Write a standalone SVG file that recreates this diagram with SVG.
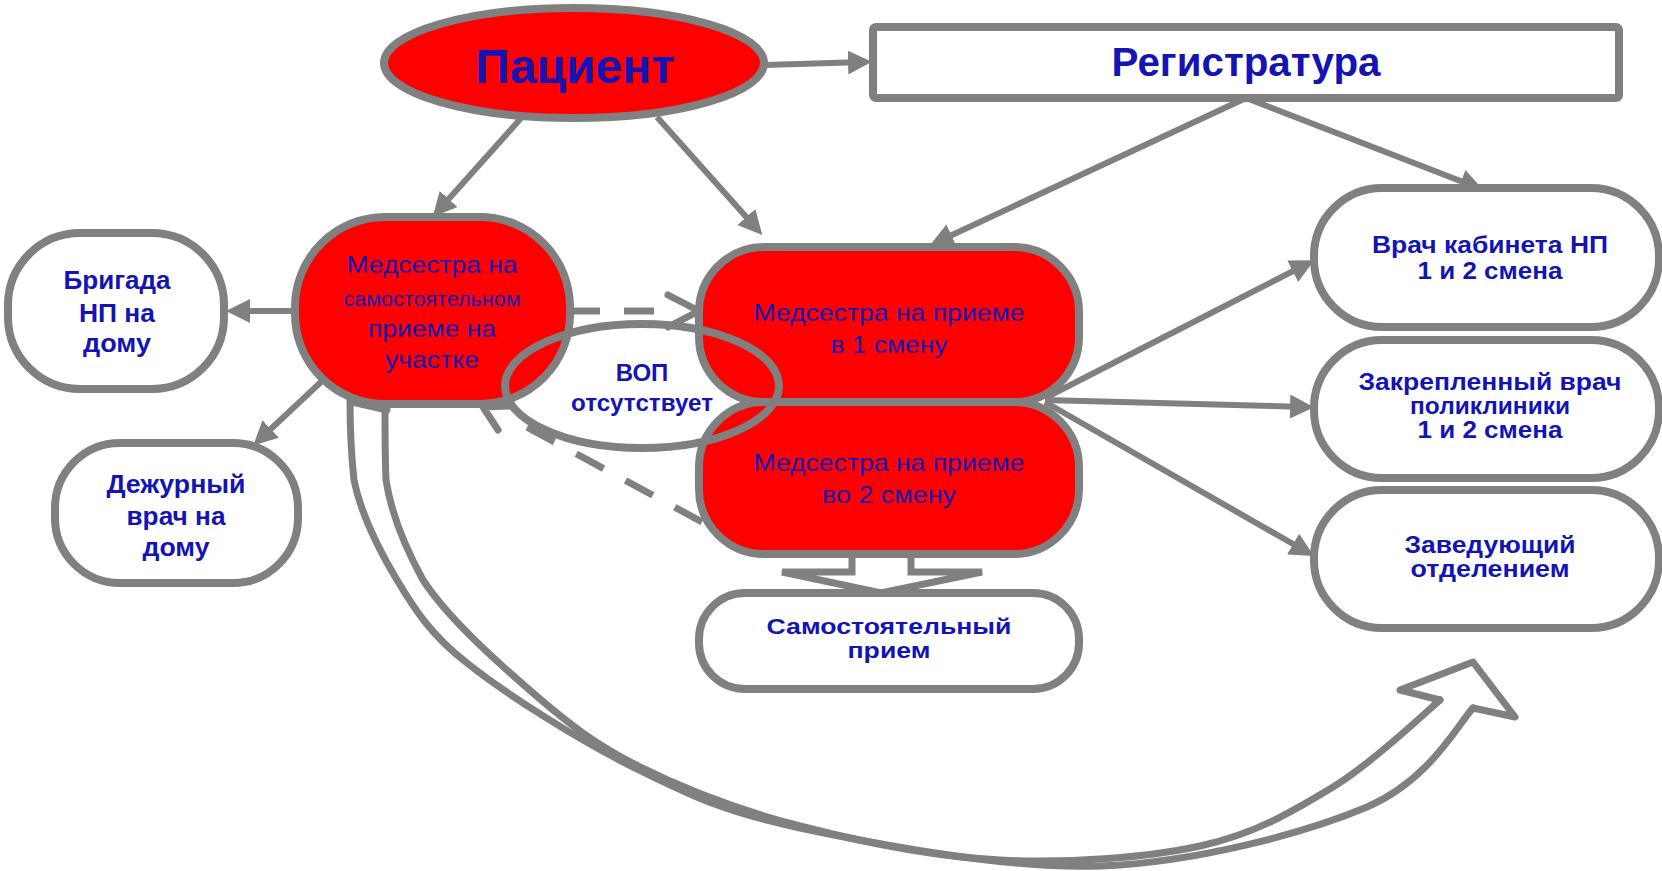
<svg xmlns="http://www.w3.org/2000/svg" width="1662" height="871" viewBox="0 0 1662 871">
<defs>
<style>
.nb{stroke:#808080;stroke-width:8}
.red{fill:#FF0000}
.wh{fill:#FFFFFF}
.t{font-family:"Liberation Sans",Arial,sans-serif;fill:#1414B4;text-anchor:middle}
.b{font-weight:bold}
.c{stroke:#808080;stroke-width:6;fill:none}
.d{stroke:#808080;stroke-width:7;fill:none;stroke-dasharray:30 24}
.ch{stroke:#808080;stroke-width:7;fill:none;stroke-linecap:round;stroke-linejoin:round}
.cv{stroke:#808080;stroke-width:7;fill:none;stroke-linejoin:round;stroke-linecap:round}
</style>
<marker id="ah" viewBox="0 0 24 24" refX="16" refY="12" markerWidth="24" markerHeight="24" markerUnits="userSpaceOnUse" orient="auto"><path d="M0,0 L24,12 L0,24 z" fill="#808080"/></marker>
</defs>
<rect width="1662" height="871" fill="#FFFFFF"/>
<g id="connectors">
<path class="cv" d="M350,400 C350,427 351,453 354,480 C360.6,513 377.2,547 397,580 C413.8,608 430.6,635 467,663 C506.3,694.2 577.5,739.5 633,767 C688.5,794.5 722.2,811.5 800,828 C877.8,844.5 1005.5,869.5 1100,866 C1194.5,862.5 1304.8,833.3 1367,807 C1429.2,780.7 1458,724 1473,708"/>
<path class="cv" d="M385,408 C385,432 385,456 386,480 C391,513 404.9,547 423,580 C447.7,618 496.8,661.8 533,693 C569.2,724.2 595.5,744.8 640,767 C684.5,789.2 740,810.5 800,826 C860,841.5 933.3,856.7 1000,860 C1066.7,863.3 1144.5,858.2 1200,846 C1255.5,833.8 1293,811.3 1333,787 C1373,762.7 1425,713 1440,700"/>
<polyline class="cv" points="1440,700 1400,690 1473,662 1515,717 1473,708"/>
<line class="cv" x1="352" y1="402" x2="387" y2="410"/>
<line class="c" x1="765" y1="65" x2="864" y2="62" marker-end="url(#ah)"/>
<line class="c" x1="1246" y1="98" x2="937" y2="242" marker-end="url(#ah)"/>
<line class="c" x1="1246" y1="98" x2="1476" y2="187" marker-end="url(#ah)"/>
<line class="c" x1="522" y1="117" x2="438" y2="211" marker-end="url(#ah)"/>
<line class="c" x1="657" y1="117" x2="757" y2="229" marker-end="url(#ah)"/>
<line class="c" x1="295" y1="311" x2="234" y2="311" marker-end="url(#ah)"/>
<line class="c" x1="321" y1="382" x2="259" y2="440" marker-end="url(#ah)"/>
<line class="c" x1="1045" y1="398" x2="1307" y2="264" marker-end="url(#ah)"/>
<line class="c" x1="1045" y1="400" x2="1306" y2="407" marker-end="url(#ah)"/>
<line class="c" x1="1045" y1="402" x2="1307" y2="552" marker-end="url(#ah)"/>
<line class="d" x1="570" y1="311" x2="660" y2="311"/>
<polyline class="ch" points="668,295 699,311 668,327"/>
<line class="d" x1="702" y1="522" x2="527" y2="427" style="stroke-dasharray:31 25"/>
<polyline class="ch" points="498,430 483,407 510,406"/>
<polygon points="852,554 852,572 782,572 881,593 982,572 911,572 911,554" fill="#FFFFFF" stroke="#808080" stroke-width="7" stroke-linejoin="miter"/>
</g>
<g id="patient">
<ellipse cx="574" cy="63" rx="190" ry="55" class="nb red"/>
<text x="575" y="83" class="t b" font-size="48">Пациент</text>
</g>
<g id="registratura">
<rect x="873" y="27" width="746" height="71" rx="3" class="nb wh"/>
<text x="1246" y="76" class="t b" font-size="40" textLength="269" lengthAdjust="spacingAndGlyphs">Регистратура</text>
</g>
<g id="nurse-own">
<rect x="295" y="217" width="275" height="187" rx="90" class="nb red"/>
<text x="432" y="273" class="t" font-size="24" textLength="171" lengthAdjust="spacingAndGlyphs">Медсестра на</text>
<text x="432" y="306" class="t" font-size="20" textLength="177" lengthAdjust="spacingAndGlyphs">самостоятельном</text>
<text x="432" y="337" class="t" font-size="24" textLength="128" lengthAdjust="spacingAndGlyphs">приеме на</text>
<text x="432" y="368" class="t" font-size="24" textLength="94" lengthAdjust="spacingAndGlyphs">участке</text>
</g>
<g id="brigade">
<rect x="8" y="233" width="216" height="156" rx="72" class="nb wh"/>
<text x="117" y="289" class="t b" font-size="25" textLength="107" lengthAdjust="spacingAndGlyphs">Бригада</text>
<text x="117" y="322" class="t b" font-size="25" textLength="76" lengthAdjust="spacingAndGlyphs">НП на</text>
<text x="117" y="352" class="t b" font-size="25" textLength="68" lengthAdjust="spacingAndGlyphs">дому</text>
</g>
<g id="duty">
<rect x="55" y="443" width="243" height="140" rx="65" class="nb wh"/>
<text x="176" y="493" class="t b" font-size="25" textLength="139" lengthAdjust="spacingAndGlyphs">Дежурный</text>
<text x="176" y="525" class="t b" font-size="25" textLength="99" lengthAdjust="spacingAndGlyphs">врач на</text>
<text x="176" y="556" class="t b" font-size="25" textLength="67" lengthAdjust="spacingAndGlyphs">дому</text>
</g>
<g id="nurse-1">
<rect x="699" y="247" width="380" height="155" rx="65" class="nb red"/>
<text x="889" y="321" class="t" font-size="24" textLength="271" lengthAdjust="spacingAndGlyphs">Медсестра на приеме</text>
<text x="889" y="353" class="t" font-size="24" textLength="117" lengthAdjust="spacingAndGlyphs">в 1 смену</text>
</g>
<g id="nurse-2">
<rect x="699" y="402" width="380" height="152" rx="65" class="nb red"/>
<text x="889" y="471" class="t" font-size="24" textLength="271" lengthAdjust="spacingAndGlyphs">Медсестра на приеме</text>
<text x="889" y="503" class="t" font-size="24" textLength="134" lengthAdjust="spacingAndGlyphs">во 2 смену</text>
</g>
<g id="self">
<rect x="699" y="593" width="380" height="96" rx="46" class="nb wh"/>
<text x="889" y="634" class="t b" font-size="22" textLength="245" lengthAdjust="spacingAndGlyphs">Самостоятельный</text>
<text x="889" y="658" class="t b" font-size="22" textLength="83" lengthAdjust="spacingAndGlyphs">прием</text>
</g>
<g id="vop">
<ellipse cx="642" cy="386" rx="137" ry="62" fill="none" class="nb"/>
<text x="642" y="381" class="t b" font-size="24">ВОП</text>
<text x="642" y="411" class="t b" font-size="23" textLength="142" lengthAdjust="spacingAndGlyphs">отсутствует</text>
</g>
<g id="doc-np">
<rect x="1314" y="188" width="345" height="139" rx="68" class="nb wh"/>
<text x="1490" y="253" class="t b" font-size="24" textLength="236" lengthAdjust="spacingAndGlyphs">Врач кабинета НП</text>
<text x="1490" y="279" class="t b" font-size="24" textLength="145" lengthAdjust="spacingAndGlyphs">1 и 2 смена</text>
</g>
<g id="doc-fixed">
<rect x="1314" y="340" width="345" height="138" rx="68" class="nb wh"/>
<text x="1490" y="390" class="t b" font-size="23" textLength="263" lengthAdjust="spacingAndGlyphs">Закрепленный врач</text>
<text x="1490" y="414" class="t b" font-size="23" textLength="160" lengthAdjust="spacingAndGlyphs">поликлиники</text>
<text x="1490" y="438" class="t b" font-size="23" textLength="145" lengthAdjust="spacingAndGlyphs">1 и 2 смена</text>
</g>
<g id="head">
<rect x="1314" y="490" width="345" height="138" rx="68" class="nb wh"/>
<text x="1490" y="553" class="t b" font-size="24" textLength="171" lengthAdjust="spacingAndGlyphs">Заведующий</text>
<text x="1490" y="577" class="t b" font-size="24" textLength="159" lengthAdjust="spacingAndGlyphs">отделением</text>
</g>
</svg>
